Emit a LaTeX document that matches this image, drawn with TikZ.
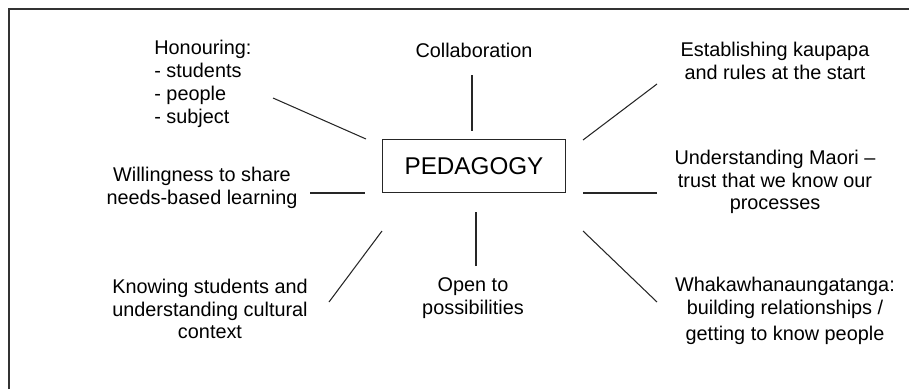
\documentclass[tikz,border=0pt]{standalone}
\usepackage{fontspec}
\setmainfont{Liberation Sans}
\begin{document}
\begin{tikzpicture}[x=0.02cm, y=-0.02cm,
  every node/.style={font=\fontsize{11.3}{13}\selectfont, inner sep=0pt, align=center},
  hub/.style={draw=black!85, line width=0.85pt, minimum width=3.66cm, minimum height=1.06cm, font=\fontsize{13.8}{16}\selectfont},
  link/.style={draw=black!85, line width=0.6pt}]
  \useasboundingbox (0,0) rectangle (909,389);
  \draw[black!80, line width=1.1pt] (9,389) -- (9,9) -- (909,9);

  \node[hub] (ped) at (474,166) {PEDAGOGY};

  \node[anchor=west, align=left] (honour) at (154,84) {Honouring:\\- students\\- people\\- subject};
  \node (collab) at (474,50) {Collaboration};
  \node (estab) at (775,61) {Establishing kaupapa\\and rules at the start};
  \node (willing) at (202,188) {Willingness to share\\needs-based learning};
  \node (maori) at (775,182) {Understanding Maori --\\trust that we know our\\processes};
  \node (knowing) at (210,309) {Knowing students and\\understanding cultural\\context};
  \node (open) at (473,298) {Open to\\possibilities};
  \node (whaka) at (785,311) {Whakawhanaungatanga:\\building relationships /\\[2pt]getting to know people};

  % line ends, a: outer side, b: hub side
  \coordinate (honour-a) at (273,98);  \coordinate (honour-b) at (366,139);
  \coordinate (collab-a) at (472,75);  \coordinate (collab-b) at (472,131);
  \coordinate (estab-a) at (657,84);   \coordinate (estab-b) at (583,140);
  \coordinate (willing-a) at (310,193); \coordinate (willing-b) at (365,193);
  \coordinate (maori-a) at (657,193);  \coordinate (maori-b) at (583,193);
  \coordinate (knowing-a) at (329,302); \coordinate (knowing-b) at (382,231);
  \coordinate (open-a) at (476,266);   \coordinate (open-b) at (476,212);
  \coordinate (whaka-a) at (657,302);  \coordinate (whaka-b) at (583,231);

  \foreach \n in {honour, collab, estab, willing, maori, knowing, open, whaka} {
    \draw[link] (\n-a) -- (\n-b);
  }
\end{tikzpicture}
\end{document}
